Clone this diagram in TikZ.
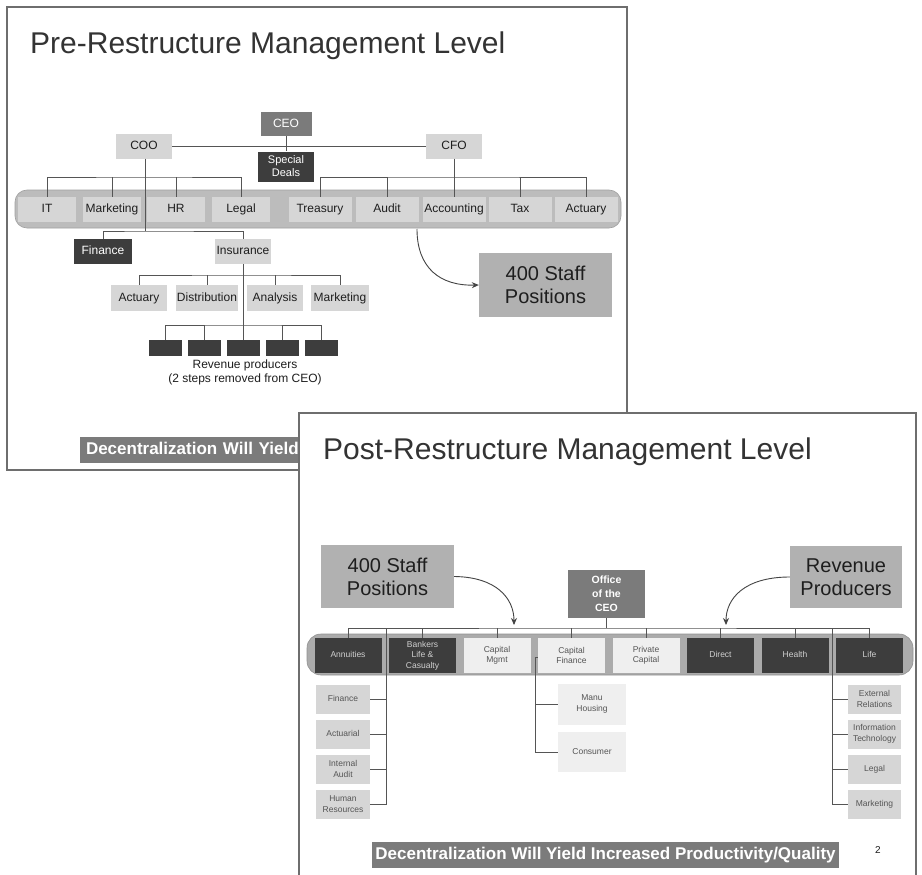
\documentclass[tikz,border=0pt]{standalone}
\usepackage{fontspec}
\setmainfont{Liberation Sans}
\usetikzlibrary{arrows.meta}
\definecolor{cLine}{HTML}{555555}
\definecolor{cFrame}{HTML}{6E6E6E}
\definecolor{cTitle}{HTML}{333333}
\definecolor{cLight}{HTML}{D6D6D6}
\definecolor{cDark}{HTML}{3D3D3D}
\definecolor{cMid}{HTML}{7B7B7B}
\definecolor{cStaff}{HTML}{B1B1B1}
\definecolor{cBandA}{HTML}{BCBCBC}
\definecolor{cBandB}{HTML}{ABABAB}
\definecolor{cPale}{HTML}{EFEFEF}
\definecolor{cTxt}{HTML}{1E1E1E}
\definecolor{cSmTxt}{HTML}{555555}
\definecolor{cDkTxt}{HTML}{D0D0D0}
\begin{document}
\begin{tikzpicture}[x=1pt,y=-1pt,
  sz/.style 2 args={minimum width=#1pt, minimum height=#2pt},
  basebox/.style={inner sep=0pt, align=center, font=\fontsize{12}{14}\selectfont},
  one/.style={text height=8.7pt, text depth=2.5pt},
  onesm/.style={text height=6.2pt, text depth=1.8pt},
  lt/.style={basebox, fill=cLight, text=cTxt},
  dk/.style={basebox, fill=cDark, text=white},
  mid/.style={basebox, fill=cMid, text=white},
  staff/.style={basebox, fill=cStaff, text=cTxt, font=\fontsize{20}{23}\selectfont},
  sm/.style={font=\fontsize{8.5}{10.5}\selectfont},
  smlt/.style={basebox, sm, fill=cLight, text=cSmTxt},
  smpale/.style={basebox, sm, fill=cPale, text=cSmTxt},
  smdk/.style={basebox, sm, fill=cDark, text=cDkTxt},
  title/.style={anchor=base west, inner sep=0pt, text=cTitle, font=\fontsize{30}{36}\selectfont},
  banner/.style={inner sep=0pt, fill=cMid, text=white, font=\fontsize{17}{20}\selectfont\bfseries},
  conn/.style={draw=cLine, line width=0.8pt},
  arr/.style={draw=cLine!80!black, line width=0.9pt, -{Stealth[length=7pt,width=6pt]}},
  frame/.style={draw=cFrame, line width=1.3pt}
]
\clip (0,0) rectangle (922,875);
\fill[white] (0,0) rectangle (922,875);

% ================= TOP SLIDE =================
\draw[frame] (7,7) rectangle (627,470);
\node[title] (t1) at (30,53.5) {Pre-Restructure Management Level};

\node[mid, one, sz={51}{24}] (ceo) at (286,124) {CEO};
\node[lt, one, sz={56}{25}] (coo) at (144,146) {COO};
\node[lt, one, sz={56}{25}] (cfo) at (454,146) {CFO};
\node[dk, sz={56}{30}, font=\fontsize{11}{13}\selectfont] (deals) at (286,166.5) {Special\\Deals};

\node[fill=cBandA, draw=cBandA!85!black, line width=0.6pt, rounded corners=12pt, sz={606}{38}, inner sep=0pt] (bandA) at (318,209) {};
\node[lt, one, sz={58}{25}] (it) at (47,209.5) {IT};
\node[lt, one, sz={58}{25}] (mkt) at (112,209.5) {Marketing};
\node[lt, one, sz={58}{25}] (hr) at (176,209.5) {HR};
\node[lt, one, sz={58}{25}] (legal) at (241,209.5) {Legal};
\node[lt, one, sz={63}{25}] (treas) at (320,209.5) {Treasury};
\node[lt, one, sz={63}{25}] (audit) at (387,209.5) {Audit};
\node[lt, one, sz={63}{25}] (acc) at (454,209.5) {Accounting};
\node[lt, one, sz={63}{25}] (tax) at (520,209.5) {Tax};
\node[lt, one, sz={63}{25}] (actu) at (586,209.5) {Actuary};

\draw[conn] (coo.east) -- (cfo.west);
\draw[conn] (ceo.south) -- (deals.north);
\coordinate (lbus) at (144,177);
\draw[conn] (it.north) |- (lbus) -| (legal.north);
\draw[conn] (mkt.north) -- (mkt.north |- lbus);
\draw[conn] (hr.north) -- (hr.north |- lbus);
\coordinate (rbus) at (454,177);
\draw[conn] (treas.north) |- (rbus) -| (actu.north);
\draw[conn] (audit.north) -- (audit.north |- rbus);
\draw[conn] (tax.north) -- (tax.north |- rbus);
\draw[conn] (cfo.south) -- (acc.north);

\node[dk, one, sz={58}{25}] (fin) at (103,251.5) {Finance};
\node[lt, one, sz={56}{25}] (ins) at (243,251.5) {Insurance};
\coordinate (fbus) at (145,231);
\draw[conn] (145,158.5) -- (fbus);
\draw[conn] (fin.north) |- (fbus) -| (ins.north);

\node[lt, one, sz={56}{26}] (iact) at (139,298) {Actuary};
\node[lt, one, sz={62}{26}] (idist) at (207,298) {Distribution};
\node[lt, one, sz={56}{26}] (ianal) at (275,298) {Analysis};
\node[lt, one, sz={58}{26}] (imkt) at (340,298) {Marketing};
\coordinate (ibus) at (243,275);
\draw[conn] (iact.north) |- (ibus) -| (imkt.north);
\draw[conn] (idist.north) -- (idist.north |- ibus);
\draw[conn] (ianal.north) -- (ianal.north |- ibus);

\node[dk, sz={33}{16}] (r1) at (165,348) {};
\node[dk, sz={33}{16}] (r2) at (204,348) {};
\node[dk, sz={33}{16}] (r3) at (243,348) {};
\node[dk, sz={33}{16}] (r4) at (282,348) {};
\node[dk, sz={33}{16}] (r5) at (321,348) {};
\draw[conn] (ins.south) -- (r3.north);
\coordinate (rvbus) at (243,325);
\draw[conn] (r1.north) |- (rvbus) -| (r5.north);
\draw[conn] (r2.north) -- (r2.north |- rvbus);
\draw[conn] (r4.north) -- (r4.north |- rvbus);
\node[basebox, text=cTxt] (revtxt) at (245,372.5) {Revenue producers\\(2 steps removed from CEO)};

\node[staff, sz={133}{64}] (staffA) at (545.5,285) {400 Staff\\Positions};
\coordinate (aStart) at (417,229);
\draw[arr] (aStart) .. controls (417,268) and (440,286) .. (staffA.west);

\node[banner, sz={240}{26}, text width=228pt, align=left, text height=12.4pt, text depth=3.6pt] (banA) at (200,450) {Decentralization Will Yield};

% ================= BOTTOM SLIDE =================
\draw[frame, fill=white] (299,413) rectangle (916,895);
\node[title] (t2) at (323,459.5) {Post-Restructure Management Level};

\node[staff, sz={133}{63}] (staffB) at (387.5,576.5) {400 Staff\\Positions};
\node[staff, sz={112}{62}] (revB) at (846,577) {Revenue\\Producers};
\node[mid, sz={77}{48}, font=\fontsize{10.5}{14}\selectfont\bfseries] (office) at (606.5,594) {Office\\of the\\CEO};

\node[fill=cBandB, draw=cBandB!85!black, line width=0.6pt, rounded corners=14pt, sz={606}{41}, inner sep=0pt] (bandB) at (610,654.5) {};
\node[smdk, onesm, sz={67}{35}] (ann) at (348,655.5) {Annuities};
\node[smdk, sz={67}{35}] (bank) at (422.5,655.5) {Bankers\\Life \&\\Casualty};
\node[smpale, sz={67}{35}] (cmg) at (497,655.5) {Capital\\Mgmt};
\node[smpale, sz={67}{35}] (cfin) at (571.5,655.5) {Capital\\Finance};
\node[smpale, sz={67}{35}] (priv) at (646,655.5) {Private\\Capital};
\node[smdk, onesm, sz={67}{35}] (direct) at (720.5,655.5) {Direct};
\node[smdk, onesm, sz={67}{35}] (health) at (795,655.5) {Health};
\node[smdk, onesm, sz={67}{35}] (life) at (869.5,655.5) {Life};

\coordinate (bbus) at (606.5,628);
\draw[conn] (office.south) -- (bbus);
\draw[conn] (ann.north) |- (bbus) -| (life.north);
\draw[conn] (bank.north) -- (bank.north |- bbus);
\draw[conn] (cmg.north) -- (cmg.north |- bbus);
\draw[conn] (cfin.north) -- (cfin.north |- bbus);
\draw[conn] (priv.north) -- (priv.north |- bbus);
\draw[conn] (direct.north) -- (direct.north |- bbus);
\draw[conn] (health.north) -- (health.north |- bbus);

\draw[arr] (staffB.east) .. controls (496,577) and (514,598) .. (514,625);
\draw[arr] (revB.west) .. controls (745,577) and (726,598) .. (726,625);

% left staff column
\node[smlt, onesm, sz={54}{29}] (lfin) at (343,699) {Finance};
\node[smlt, onesm, sz={54}{29}] (lact) at (343,734) {Actuarial};
\node[smlt, sz={54}{29}] (laud) at (343,769) {Internal\\Audit};
\node[smlt, sz={54}{29}] (lhr) at (343,804) {Human\\Resources};
\coordinate (lcol) at (386,628);
\draw[conn] (lcol) |- (lhr.east);
\draw[conn] (lfin.east) -- (lfin.east -| lcol);
\draw[conn] (lact.east) -- (lact.east -| lcol);
\draw[conn] (laud.east) -- (laud.east -| lcol);

% right staff column
\node[smlt, sz={53}{29}] (rext) at (874.5,699) {External\\Relations};
\node[smlt, sz={53}{29}] (rit) at (874.5,734) {Information\\Technology};
\node[smlt, onesm, sz={53}{29}] (rleg) at (874.5,769) {Legal};
\node[smlt, onesm, sz={53}{29}] (rmkt) at (874.5,804) {Marketing};
\coordinate (rcol) at (832,628);
\draw[conn] (rcol) |- (rmkt.west);
\draw[conn] (rext.west) -- (rext.west -| rcol);
\draw[conn] (rit.west) -- (rit.west -| rcol);
\draw[conn] (rleg.west) -- (rleg.west -| rcol);

% capital finance children
\node[smpale, sz={68}{41}] (manu) at (592,704) {Manu\\Housing};
\node[smpale, onesm, sz={68}{40}] (cons) at (592,752) {Consumer};
\coordinate (ccol) at (535.5,657);
\draw[conn] (cfin.west |- ccol) -- (ccol) |- (cons.west);
\draw[conn] (manu.west) -- (manu.west -| ccol);

\node[banner, sz={467}{26}, text height=12.4pt, text depth=3.6pt] (banB) at (605.5,855) {Decentralization Will Yield Increased Productivity/Quality};
\node[inner sep=0pt, text=cTxt, font=\fontsize{10}{12}\selectfont] (pg) at (878,850) {2};
\end{tikzpicture}
\end{document}
